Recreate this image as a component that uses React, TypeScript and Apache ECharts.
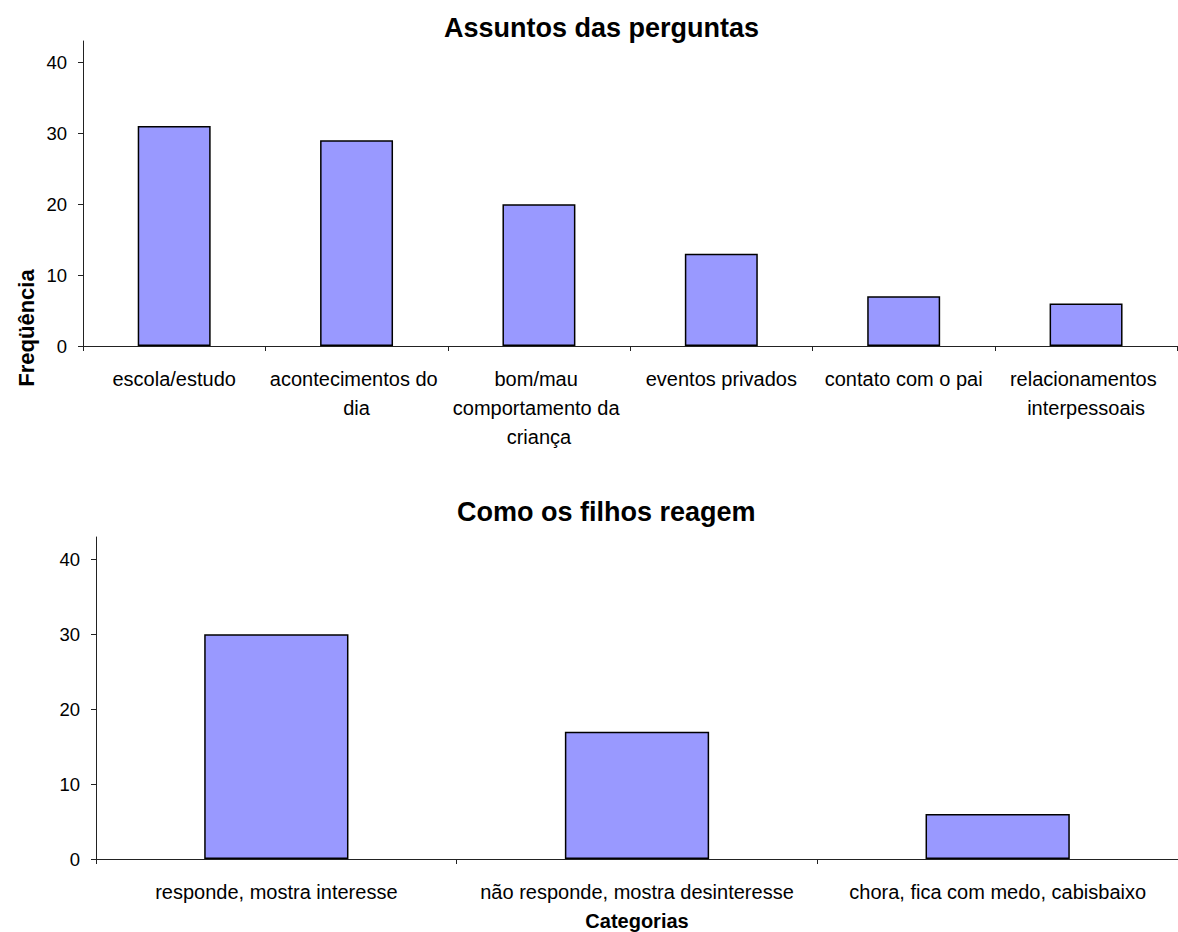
import React, { useEffect, useRef } from 'react';
import * as echarts from 'echarts';

const topCategories = [
  'escola/estudo',
  'acontecimentos do dia',
  'bom/mau comportamento da criança',
  'eventos privados',
  'contato com o pai',
  'relacionamentos interpessoais',
];
const topValues = [31, 29, 20, 13, 7, 6];

const bottomCategories = [
  'responde, mostra interesse',
  'não responde, mostra desinteresse',
  'chora, fica com medo, cabisbaixo',
];
const bottomValues = [30, 17, 6];

const yTicks = [0, 10, 20, 30, 40];
const yMax = 43;

const topTitle = 'Assuntos das perguntas';
const bottomTitle = 'Como os filhos reagem';
const yName = 'Freqüência';
const xName = 'Categorias';

const FONT = '"Liberation Sans", Arial, Helvetica, sans-serif';
const AXIS = '#222';
const BAR = '#9999FF';

function valueAxis(gridIndex: number) {
  return {
    type: 'value',
    gridIndex,
    min: 0,
    max: yMax,
    interval: 10,
    axisLine: { show: true, lineStyle: { color: AXIS, width: 1 } },
    axisTick: { show: true, length: 5, customValues: yTicks, lineStyle: { color: AXIS } },
    axisLabel: {
      customValues: yTicks,
      fontSize: 18.5,
      fontFamily: FONT,
      color: '#000',
      margin: 16,
      formatter: (v: number) => (yTicks.indexOf(v) >= 0 ? String(v) : ''),
    },
    splitLine: { show: false },
  };
}

function catAxis(gridIndex: number, data: string[], width: number) {
  return {
    type: 'category',
    gridIndex,
    data,
    boundaryGap: true,
    axisLine: { show: true, lineStyle: { color: AXIS, width: 1 } },
    axisTick: { show: true, length: 5, alignWithLabel: false, lineStyle: { color: AXIS } },
    axisLabel: {
      interval: 0,
      fontSize: 20,
      fontFamily: FONT,
      color: '#000',
      lineHeight: 29,
      margin: 18,
      width,
      overflow: 'break',
    },
    splitLine: { show: false },
  };
}

export default function App() {
  const ref = useRef<HTMLDivElement>(null);

  useEffect(() => {
    if (!ref.current) return;
    const chart = echarts.init(ref.current, undefined, { renderer: 'svg' });
    const bottomX: any = catAxis(1, bottomCategories, 350);
    bottomX.name = xName;
    bottomX.nameLocation = 'middle';
    bottomX.nameGap = 52;
    bottomX.nameTextStyle = { fontSize: 20, fontWeight: 'bold', fontFamily: FONT, color: '#000' };

    const option: any = {
      animation: false,
      backgroundColor: '#ffffff',
      title: [
        {
          text: topTitle,
          left: 439,
          top: 9,
          textStyle: { fontFamily: FONT, fontSize: 27, fontWeight: 'bold', color: '#000' },
        },
        {
          text: bottomTitle,
          left: 452,
          top: 493,
          textStyle: { fontFamily: FONT, fontSize: 27, fontWeight: 'bold', color: '#000' },
        },
      ],
      grid: [
        { left: 83, top: 41, width: 1095, height: 305 },
        { left: 96, top: 537, width: 1082, height: 323 },
      ],
      xAxis: [catAxis(0, topCategories, 178), bottomX],
      yAxis: [valueAxis(0), valueAxis(1)],
      series: [
        {
          type: 'bar',
          xAxisIndex: 0,
          yAxisIndex: 0,
          data: topValues,
          barWidth: '40%',
          itemStyle: { color: BAR, borderColor: '#000', borderWidth: 1.5 },
        },
        {
          type: 'bar',
          xAxisIndex: 1,
          yAxisIndex: 1,
          data: bottomValues,
          barWidth: '40%',
          itemStyle: { color: BAR, borderColor: '#000', borderWidth: 1.5 },
        },
      ],
      graphic: [
        {
          type: 'text',
          x: 26,
          y: 328,
          rotation: Math.PI / 2,
          style: {
            text: yName,
            fontSize: 22,
            fontWeight: 'bold',
            fontFamily: FONT,
            fill: '#000',
            align: 'center',
            verticalAlign: 'middle',
          },
        },
      ],
    };
    chart.setOption(option);
    return () => chart.dispose();
  }, []);

  return (
    <div
      ref={ref}
      style={{ position: 'absolute', left: 0, top: 0, width: 1178, height: 932, background: '#fff' }}
    />
  );
}
